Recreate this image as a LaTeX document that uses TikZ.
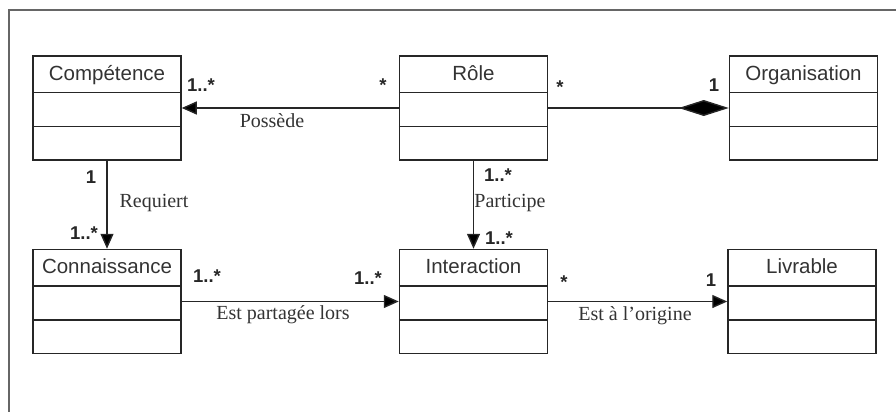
\documentclass[tikz,border=0pt]{standalone}
\usepackage{fontspec}
\setmainfont{Liberation Serif}
\setsansfont{Liberation Sans}
\usetikzlibrary{arrows.meta}
\tikzset{
	classe/.style={draw=black!85, line width=1.5pt, minimum width=148pt, minimum height=104pt, inner sep=0pt},
	titre/.style={anchor=base, inner sep=0pt, font=\sffamily\fontsize{20.5}{24}\selectfont, text=black!80},
	mult/.style={anchor=base, inner sep=0pt, font=\sffamily\bfseries\fontsize{18.5}{22}\selectfont, text=black!85},
	assoc/.style={anchor=base, inner sep=0pt, font=\fontsize{20}{24}\selectfont, text=black!80},
	lien/.style={draw=black!85, line width=1.4pt},
	fleche/.style={lien, -{Triangle[length=15pt,width=13pt]}},
	compo/.style={lien, -{Diamond[length=50pt,width=16pt]}},
}
\begin{document}
\begin{tikzpicture}[x=1pt,y=-1pt]
	\useasboundingbox (0,0) rectangle (896,412);
	\draw[black!60, line width=1.6pt] (896,10) -- (9,10) -- (9,412);
	
	% classes
	\node[classe] (competence) at (107,108) {};
	\node[classe] (role) at (473.5,108) {};
	\node[classe] (organisation) at (803.5,108) {};
	\node[classe] (connaissance) at (107,301.5) {};
	\node[classe] (interaction) at (473.5,301.5) {};
	\node[classe] (livrable) at (802,301.5) {};
	
	\foreach \c/\t in {competence/Compétence, role/Rôle, organisation/Organisation,
		connaissance/Connaissance, interaction/Interaction, livrable/Livrable} {
		\node[titre] (\c-titre) at ([yshift=-25pt]\c.north) {\t};
		\draw[black!85, line width=1.5pt] ([yshift=-37pt]\c.north west) -- ([yshift=-37pt]\c.north east)
		([yshift=-71pt]\c.north west) -- ([yshift=-71pt]\c.north east);
	}
	
	% associations
	\draw[fleche] (role) edge (competence)
	(competence) edge (connaissance)
	(role) edge (interaction)
	(connaissance) edge (interaction)
	(interaction) edge (livrable);
	\draw[compo] (role) edge (organisation);
	
	\node[assoc] (possede) at (272,127) {Possède};
	\node[assoc] (requiert) at (154,207) {Requiert};
	\node[assoc] (participe) at (510,207) {Participe};
	\node[assoc] (partagee) at (283,319) {Est partagée lors};
	\node[assoc] (origine) at (635,320) {Est à l’origine};
	
	% multiplicites
	\node[mult] (m1) at (201,91) {1..*};
	\node[mult] (m2) at (383,91) {*};
	\node[mult] (m3) at (560,93) {*};
	\node[mult] (m4) at (714,91) {1};
	\node[mult] (m5) at (91,183) {1};
	\node[mult] (m6) at (84,239) {1..*};
	\node[mult] (m7) at (498,181) {1..*};
	\node[mult] (m8) at (499,244) {1..*};
	\node[mult] (m9) at (207,282) {1..*};
	\node[mult] (m10) at (368,284) {1..*};
	\node[mult] (m11) at (564,288) {*};
	\node[mult] (m12) at (711,286) {1};
\end{tikzpicture}
\end{document}
